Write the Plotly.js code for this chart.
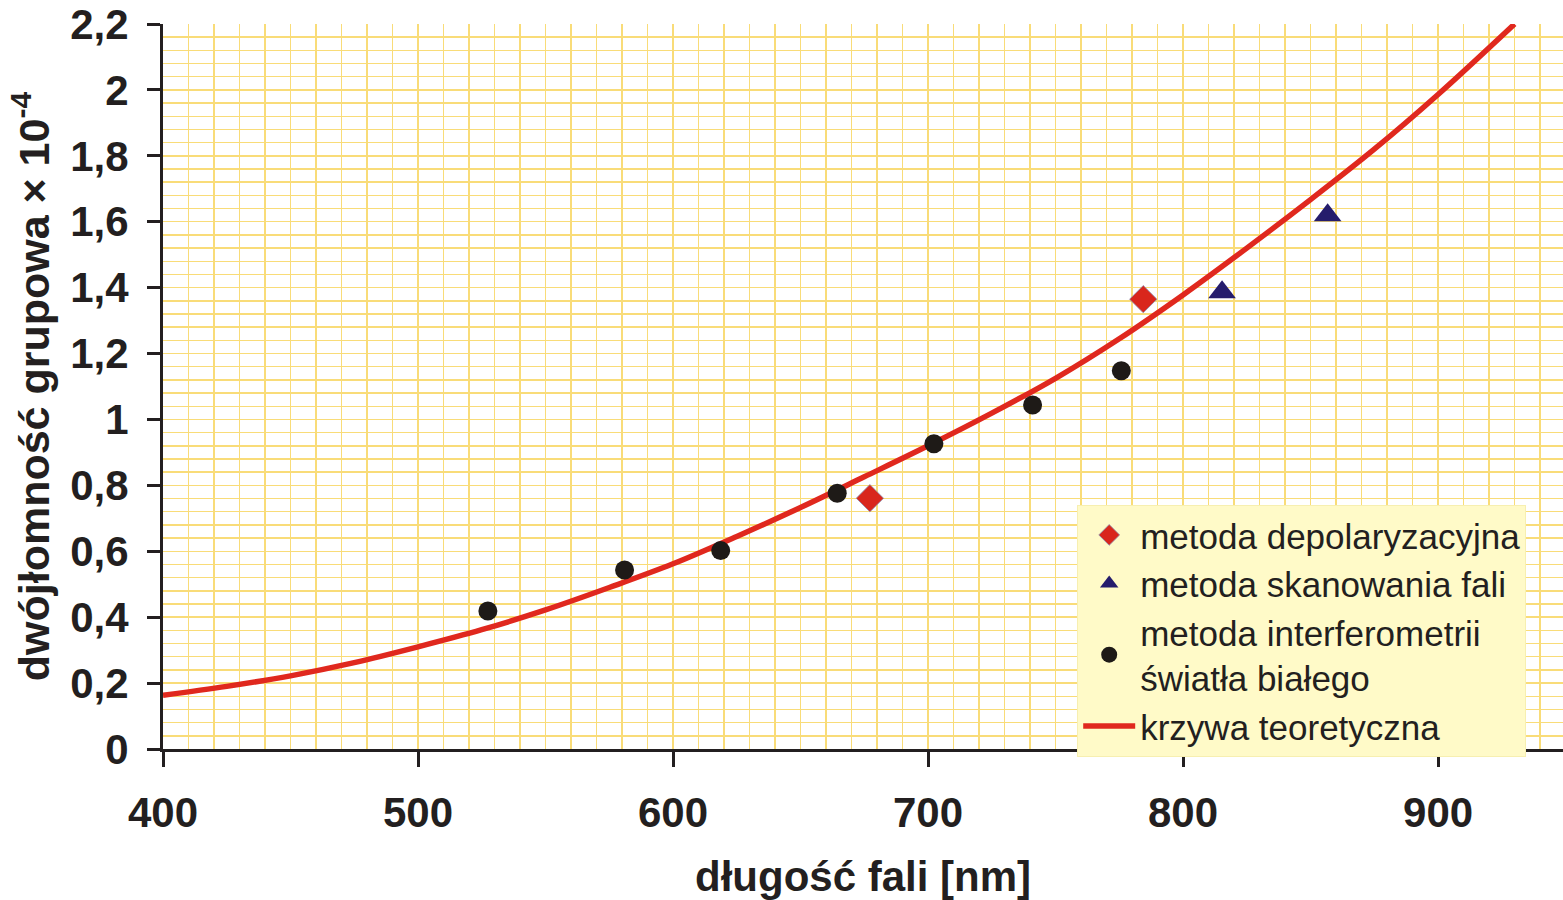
<!DOCTYPE html>
<html>
<head>
<meta charset="utf-8">
<script src="https://cdn.plot.ly/plotly-3.0.1.min.js"></script>
<style>html,body{margin:0;padding:0;background:#fff;}#chart{width:1563px;height:900px;}</style>
</head>
<body>
<div id="chart"></div>
<script>
// Theoretical curve
const curveX = [400, 425, 450, 475, 500, 525, 550, 575, 600, 625, 650, 675, 700, 725, 750, 775, 800, 825, 850, 875, 900, 930];
const curveY = [0.163, 0.19, 0.222, 0.262, 0.31, 0.362, 0.422, 0.49, 0.562, 0.645, 0.733, 0.826, 0.92, 1.019, 1.125, 1.245, 1.378, 1.52, 1.667, 1.82, 1.986, 2.2];

// Depolarization method (red diamonds)
const depolX = [677.2, 784.4];
const depolY = [0.761, 1.365];

// Wavelength scanning method (blue triangles)
const scanX = [815.3, 856.7];
const scanY = [1.386, 1.62];

// White-light interferometry (black circles)
const interX = [527.4, 581, 618.7, 664.4, 702.3, 741, 775.8];
const interY = [0.419, 0.543, 0.602, 0.776, 0.926, 1.044, 1.148];

const xTickVals = [400, 500, 600, 700, 800, 900];
const xTickText = ['400', '500', '600', '700', '800', '900'];
const yTickVals = [0, 0.2, 0.4, 0.6, 0.8, 1, 1.2, 1.4, 1.6, 1.8, 2, 2.2];
const yTickText = ['0', '0,2', '0,4', '0,6', '0,8', '1', '1,2', '1,4', '1,6', '1,8', '2', '2,2'];

const names = ['metoda depolaryzacyjna', 'metoda skanowania fali', 'metoda interferometrii<br>światła białego', 'krzywa teoretyczna'];

const FONT = 'Liberation Sans, Arial, sans-serif';
const INK = '#231F20';
const GRID = '#F9DC78';

const curve = {x: curveX, y: curveY, mode: 'lines', type: 'scatter', name: names[3], legendrank: 1004,
   line: {color: '#E0281E', width: 5.5, shape: 'spline', smoothing: 1}};
const depol = {x: depolX, y: depolY, mode: 'markers', type: 'scatter', name: names[0], legendrank: 1001,
   marker: {symbol: 'diamond', size: 21, color: '#D9261C', line: {color: '#8a8fb0', width: 0.8}}};
const scan = {x: scanX, y: scanY, mode: 'markers', type: 'scatter', name: names[1], legendrank: 1002,
   marker: {symbol: 'triangle-up', size: 24, color: '#251C6C', line: {width: 0}}};
const inter = {x: interX, y: interY, mode: 'markers', type: 'scatter', name: names[2], legendrank: 1003,
   marker: {symbol: 'circle', size: 19, color: '#1E1A17', line: {width: 0}}};

const layout = {
  width: 1563, height: 900,
  margin: {l: 163, r: 0, t: 24, b: 151, pad: 0},
  paper_bgcolor: '#ffffff',
  plot_bgcolor: '#ffffff',
  font: {family: FONT, color: INK},
  showlegend: true,
  legend: {
    x: 0.653, y: 0.337, xanchor: 'left', yanchor: 'top',
    bgcolor: '#FFFAC8', bordercolor: '#F7EFB0', borderwidth: 1,
    font: {family: FONT, size: 35, color: INK},
    tracegroupgap: 0, itemwidth: 52
  },
  xaxis: {
    range: [400, 949], autorange: false,
    tickvals: xTickVals, ticktext: xTickText,
    tickfont: {family: FONT, size: 42, color: INK, weight: 'bold'},
    ticks: 'outside', ticklen: 15, tickwidth: 3, tickcolor: INK,
    ticklabelstandoff: 10,
    showline: true, linecolor: INK, linewidth: 3,
    showgrid: true, gridcolor: GRID, gridwidth: 1.5,
    minor: {dtick: 10, tick0: 400, showgrid: true, gridcolor: GRID, gridwidth: 1.5, ticks: ''},
    zeroline: false,
    title: {text: 'długość fali [nm]', font: {family: FONT, size: 42, color: INK, weight: 'bold'}, standoff: 38}
  },
  yaxis: {
    range: [0, 2.2], autorange: false,
    tickvals: yTickVals, ticktext: yTickText,
    tickfont: {family: FONT, size: 42, color: INK, weight: 'bold'},
    ticks: 'outside', ticklen: 13, tickwidth: 3, tickcolor: INK,
    ticklabelstandoff: 10,
    showline: true, linecolor: INK, linewidth: 3,
    showgrid: true, gridcolor: GRID, gridwidth: 1.5,
    minor: {dtick: 0.04, tick0: 0, showgrid: true, gridcolor: GRID, gridwidth: 1.5, ticks: ''},
    zeroline: false,
    title: {text: 'dwójłomność grupowa × 10<sup>-4</sup>', font: {family: FONT, size: 43, color: INK, weight: 'bold'}, standoff: 8}
  }
};

Plotly.newPlot('chart', [curve, depol, scan, inter], layout, {displayModeBar: false, staticPlot: true});
</script>
</body>
</html>
